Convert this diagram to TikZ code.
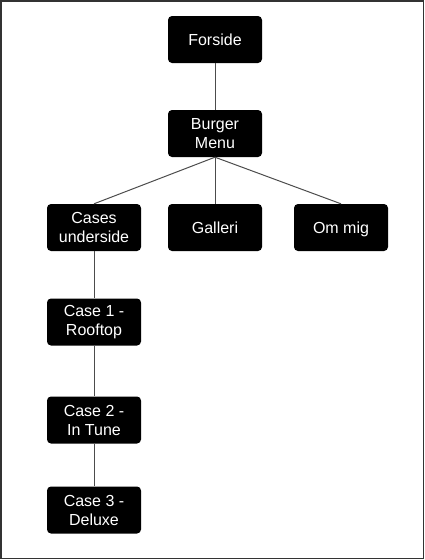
\documentclass[tikz,border=0pt]{standalone}
\usepackage{fontspec}
\setmainfont{Liberation Sans}
\usetikzlibrary{positioning}

\begin{document}
\begin{tikzpicture}[x=1pt,y=-1pt,
		page/.style={fill=black,text=white,rounded corners=4pt,minimum width=94pt,minimum height=47pt,align=center,inner sep=2pt,font=\fontsize{16}{19}\selectfont},
		single/.style={page,text depth=0pt},
		link/.style={draw=black!70,line width=1pt}]
		\useasboundingbox (0,0) rectangle (425,560);
		\draw[black!80,line width=1.5pt] (0.75,0.75) rectangle (423.5,558.5);
		\node[single] (F) at (215,39.5) {Forside};
		\node[page] (B) at (215,133.5) {Burger\\Menu};
		\node[page] (C) at (94,227.5) {Cases\\underside};
		\node[single] (G) at (215,227.5) {Galleri};
		\node[single] (O) at (341,227.5) {Om mig};
		\node[page] (C1) at (94,322) {Case 1 -\\Rooftop};
		\node[page] (C2) at (94,420) {Case 2 -\\In Tune};
		\node[page] (C3) at (94,510) {Case 3 -\\Deluxe};
		\draw[link] (F.south) -- (B.north);
		\draw[link] (B.south) -- (C.north);
		\draw[link] (B.south) -- (G.north);
		\draw[link] (B.south) -- (O.north);
		\draw[link] (C.south) -- (C1.north);
		\draw[link] (C1.south) -- (C2.north);
		\draw[link] (C2.south) -- (C3.north);
	\end{tikzpicture}
\end{document}
